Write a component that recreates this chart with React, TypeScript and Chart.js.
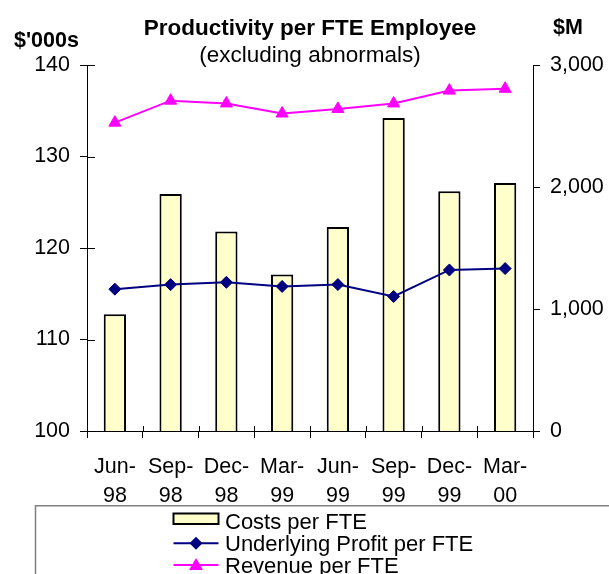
import React, { useEffect, useRef } from 'react';
import { Chart, registerables } from 'chart.js';

Chart.register(...registerables);

const categories: string[][] = [
  ['Jun-', '98'], ['Sep-', '98'], ['Dec-', '98'], ['Mar-', '99'],
  ['Jun-', '99'], ['Sep-', '99'], ['Dec-', '99'], ['Mar-', '00'],
];
const costsPerFTE = [112.75, 125.9, 121.8, 117.1, 122.3, 134.2, 126.2, 127.1];
const profitPerFTE = [115.5, 116.0, 116.25, 115.8, 116.0, 114.7, 117.6, 117.75];
const revenuePerFTE = [133.7, 136.1, 135.8, 134.7, 135.2, 135.8, 137.2, 137.4];
const leftAxisRange = [100, 140];
const leftAxisStep = 10;
const rightAxisRange = [0, 3000];
const rightAxisStep = 1000;
const seriesNames = ['Costs per FTE', 'Underlying Profit per FTE', 'Revenue per FTE'];
const titleText = 'Productivity per FTE Employee';
const subtitleText = '(excluding abnormals)';
const leftUnit = "$'000s";
const rightUnit = '$M';

const FONT = 'Arial, "Liberation Sans", sans-serif';
const BAR_FILL = '#FFFFCC';
const NAVY = '#000080';
const MAGENTA = '#FF00FF';

function diamond(ctx: CanvasRenderingContext2D, x: number, y: number, r: number, color: string) {
  ctx.beginPath();
  ctx.moveTo(x - r, y);
  ctx.lineTo(x, y - r);
  ctx.lineTo(x + r, y);
  ctx.lineTo(x, y + r);
  ctx.closePath();
  ctx.fillStyle = color;
  ctx.fill();
}

function triangle(ctx: CanvasRenderingContext2D, x: number, y: number, r: number, color: string) {
  ctx.beginPath();
  ctx.moveTo(x, y - r);
  ctx.lineTo(x + r * 0.866, y + r * 0.5);
  ctx.lineTo(x - r * 0.866, y + r * 0.5);
  ctx.closePath();
  ctx.fillStyle = color;
  ctx.fill();
}

const decorPlugin = {
  id: 'decor',
  afterDraw(chart: any) {
    const ctx: CanvasRenderingContext2D = chart.ctx;
    const ca = chart.chartArea;
    ctx.save();
    // inward tick marks on left axis
    ctx.strokeStyle = '#000';
    ctx.lineWidth = 1;
    const ys = chart.scales.y;
    ys.ticks.forEach((_t: any, i: number) => {
      const py = Math.round(ys.getPixelForTick(i)) + 0.5;
      ctx.beginPath();
      ctx.moveTo(ca.left, py);
      ctx.lineTo(ca.left + 8, py);
      ctx.stroke();
    });
    // inward tick marks on category axis (at category boundaries)
    const n = chart.data.labels.length;
    for (let i = 0; i <= n; i++) {
      const px = Math.round(ca.left + (i * (ca.right - ca.left)) / n) + 0.5;
      ctx.beginPath();
      ctx.moveTo(px, ca.bottom);
      ctx.lineTo(px, ca.bottom - 5);
      ctx.stroke();
    }

    // titles
    ctx.fillStyle = '#000';
    ctx.textBaseline = 'alphabetic';
    ctx.textAlign = 'center';
    const cx = (ca.left + ca.right) / 2;
    ctx.font = `bold 22.5px ${FONT}`;
    ctx.fillText(titleText, cx, 35);
    ctx.font = `22.5px ${FONT}`;
    ctx.fillText(subtitleText, cx, 61.5);
    ctx.textAlign = 'left';
    ctx.font = `bold 21.5px ${FONT}`;
    ctx.fillText(leftUnit, 14, 47);
    ctx.fillText(rightUnit, 553, 34);

    // legend box
    ctx.strokeStyle = '#808080';
    ctx.lineWidth = 1.5;
    ctx.strokeRect(35.5, 505.75, 700, 200);

    const ds = chart.data.datasets;
    const symL = 173.5;
    const symR = 218.5;
    const textX = 225;
    ctx.font = `22px ${FONT}`;
    // row 1: bar
    ctx.fillStyle = ds[0].backgroundColor;
    ctx.fillRect(symL, 513.5, symR - symL, 10.5);
    ctx.strokeStyle = '#000';
    ctx.lineWidth = 2;
    ctx.strokeRect(symL, 513.5, symR - symL, 10.5);
    ctx.fillStyle = '#000';
    ctx.fillText(ds[0].label, textX, 529);
    // row 2: profit
    ctx.strokeStyle = ds[1].borderColor;
    ctx.lineWidth = 2;
    ctx.beginPath();
    ctx.moveTo(symL, 543.3);
    ctx.lineTo(symR, 543.3);
    ctx.stroke();
    diamond(ctx, (symL + symR) / 2, 543.3, 6.5, ds[1].borderColor);
    ctx.fillStyle = '#000';
    ctx.fillText(ds[1].label, textX, 550.5);
    // row 3: revenue
    ctx.strokeStyle = ds[2].borderColor;
    ctx.beginPath();
    ctx.moveTo(symL, 565);
    ctx.lineTo(symR, 565);
    ctx.stroke();
    triangle(ctx, (symL + symR) / 2, 566, 8, ds[2].borderColor);
    ctx.fillStyle = '#000';
    ctx.fillText(ds[2].label, textX, 572.5);
    ctx.restore();
  },
};

export default function App() {
  const ref = useRef<HTMLCanvasElement | null>(null);

  useEffect(() => {
    if (!ref.current) return;
    const tickFont = { family: FONT, size: 21.5 };
    const chart = new Chart(ref.current, {
      type: 'bar',
      data: {
        labels: categories,
        datasets: [
          {
            type: 'bar',
            label: seriesNames[0],
            data: costsPerFTE,
            backgroundColor: BAR_FILL,
            borderColor: '#000',
            borderWidth: 2,
            borderSkipped: false,
            barPercentage: 0.4,
            categoryPercentage: 1.0,
            yAxisID: 'y',
            order: 10,
          } as any,
          {
            type: 'line',
            label: seriesNames[1],
            data: profitPerFTE,
            borderColor: NAVY,
            backgroundColor: NAVY,
            borderWidth: 2,
            pointStyle: 'rectRot',
            pointRadius: 6,
            pointBackgroundColor: NAVY,
            pointBorderColor: NAVY,
            pointBorderWidth: 1,
            tension: 0,
            yAxisID: 'y',
            order: 2,
          } as any,
          {
            type: 'line',
            label: seriesNames[2],
            data: revenuePerFTE,
            borderColor: MAGENTA,
            backgroundColor: MAGENTA,
            borderWidth: 2,
            pointStyle: 'triangle',
            pointRadius: 7,
            pointBackgroundColor: MAGENTA,
            pointBorderColor: MAGENTA,
            pointBorderWidth: 1,
            tension: 0,
            yAxisID: 'y',
            order: 1,
          } as any,
        ],
      },
      options: {
        responsive: false,
        animation: false,
        devicePixelRatio: 1,
        layout: { padding: { top: 65, left: 0, right: 0, bottom: 0 } },
        plugins: {
          legend: { display: false },
          title: { display: false },
          tooltip: { enabled: false },
        },
        scales: {
          x: {
            offset: true,
            grid: {
              offset: true,
              drawOnChartArea: false,
              drawTicks: true,
              tickLength: 7,
              color: '#000',
              lineWidth: 1,
            },
            border: { display: true, color: '#000', width: 1 },
            ticks: {
              color: '#000',
              font: { ...tickFont, lineHeight: 1.335 },
              padding: 15,
              maxRotation: 0,
              autoSkip: false,
            },
            afterFit: (s: any) => {
              s.height = 143;
            },
          },
          y: {
            position: 'left',
            min: leftAxisRange[0],
            max: leftAxisRange[1],
            ticks: { stepSize: leftAxisStep, color: '#000', font: tickFont, padding: 10 },
            grid: { drawOnChartArea: false, tickLength: 7, color: '#000', lineWidth: 1 },
            border: { display: true, color: '#000', width: 1 },
            afterFit: (s: any) => {
              s.width = 87;
            },
          },
          y1: {
            position: 'right',
            min: rightAxisRange[0],
            max: rightAxisRange[1],
            ticks: {
              stepSize: rightAxisStep,
              color: '#000',
              font: tickFont,
              padding: 10,
              callback: (v: any) => Number(v).toLocaleString('en-US'),
            },
            grid: { drawOnChartArea: false, tickLength: 7, color: '#000', lineWidth: 1 },
            border: { display: true, color: '#000', width: 1 },
            afterFit: (s: any) => {
              s.width = 76;
            },
          },
        },
      } as any,
      plugins: [decorPlugin],
    });
    return () => chart.destroy();
  }, []);

  return (
    <div style={{ position: 'absolute', left: 0, top: 0, width: 609, height: 574, background: '#fff' }}>
      <canvas ref={ref} width={609} height={574} style={{ display: 'block' }} />
    </div>
  );
}
